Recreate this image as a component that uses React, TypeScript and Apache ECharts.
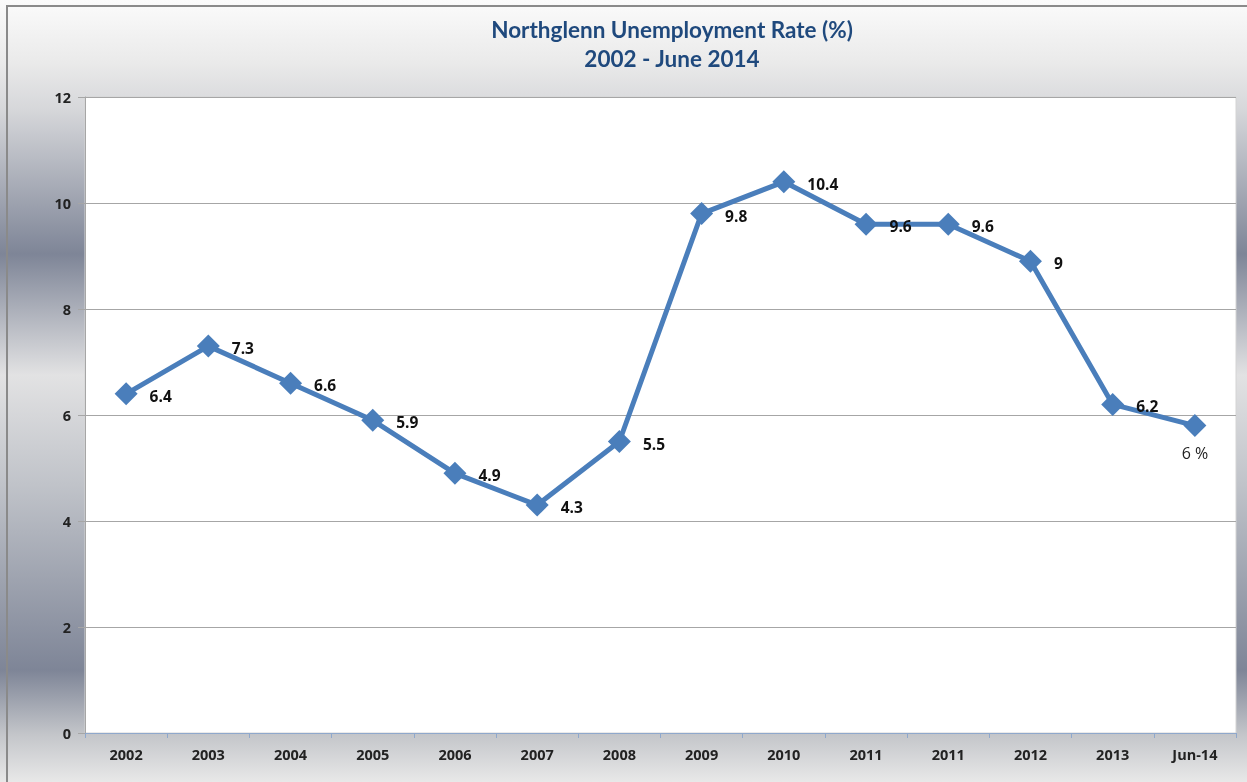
import React, { useEffect, useRef } from "react";
import * as echarts from "echarts";

const categories = ["2002", "2003", "2004", "2005", "2006", "2007", "2008", "2009", "2010", "2011", "2011", "2012", "2013", "Jun-14"];
const rates = [6.4, 7.3, 6.6, 5.9, 4.9, 4.3, 5.5, 9.8, 10.4, 9.6, 9.6, 8.9, 6.2, 5.8];
const pointLabels = ["6.4", "7.3", "6.6", "5.9", "4.9", "4.3", "5.5", "9.8", "10.4", "9.6", "9.6", "9", "6.2", "6%"];
const titleLines = ["Northglenn Unemployment Rate (%)", "2002 - June 2014"];

export default function App() {
  const ref = useRef<HTMLDivElement>(null);
  useEffect(() => {
    if (!ref.current) return;
    const chart = echarts.init(ref.current, null, { renderer: "svg" });
    const data = rates.map((v, i) => {
      const last = i === rates.length - 1;
      return {
        value: v,
        label: last
          ? {
              show: true,
              position: "bottom",
              distance: 6,
              formatter: pointLabels[i].replace("%", " %"),
              fontWeight: "normal",
              color: "#222",
              fontSize: 16,
            }
          : { show: true, formatter: pointLabels[i] },
      };
    });
    chart.setOption({
      animation: false,
      graphic: [
        {
          type: "rect",
          z: -100,
          silent: true,
          shape: { x: 0, y: 0, width: 1247, height: 782 },
          style: {
            fill: new echarts.graphic.LinearGradient(0, 0, 0, 1, [
              { offset: 0, color: "#fbfbfb" },
              { offset: 0.08, color: "#eaeaea" },
              { offset: 0.14, color: "#d6d7da" },
              { offset: 0.325, color: "#7e8597" },
              { offset: 0.48, color: "#e2e2e3" },
              { offset: 0.62, color: "#c0c3c9" },
              { offset: 0.857, color: "#7e8597" },
              { offset: 0.94, color: "#c4c6ca" },
              { offset: 1, color: "#e8e8e8" },
            ]),
          },
        },
        {
          type: "rect",
          z: 100,
          silent: true,
          shape: { x: 7, y: 6, width: 1260, height: 800 },
          style: { fill: "none", stroke: "#8a8a8a", lineWidth: 2 },
        },
      ],
      title: {
        text: titleLines.join("\n"),
        left: 667,
        textAlign: "center",
        top: 10,
        textStyle: {
          fontFamily: "Lato",
          fontWeight: "bold",
          fontSize: 22.5,
          color: "#1f497d",
          lineHeight: 29,
        },
      },
      grid: {
        left: 85,
        right: 11,
        top: 97,
        bottom: 49,
        show: true,
        backgroundColor: "#ffffff",
        borderColor: "#d4d4d4",
        borderWidth: 1,
      },
      xAxis: {
        type: "category",
        data: categories,
        boundaryGap: true,
        axisLine: { lineStyle: { color: "#8fa8cc", width: 1 } },
        axisTick: { show: true, length: 5, lineStyle: { color: "#8fa8cc" } },
        axisLabel: {
          fontFamily: "Open Sans",
          fontWeight: "bold",
          fontSize: 14.5,
          color: "#222",
          margin: 14,
          interval: 0,
        },
      },
      yAxis: {
        type: "value",
        min: 0,
        max: 12,
        interval: 2,
        axisLine: { show: true, lineStyle: { color: "#a6a6a6" } },
        axisTick: { show: true, length: 7, lineStyle: { color: "#a6a6a6" } },
        splitLine: { lineStyle: { color: "#a6a6a6", width: 1 } },
        axisLabel: {
          fontFamily: "Open Sans",
          fontWeight: "bold",
          fontSize: 14.5,
          color: "#222",
          margin: 14,
        },
      },
      series: [
        {
          type: "line",
          data,
          symbol: "diamond",
          symbolSize: 23,
          itemStyle: { color: "#4a7ebb" },
          lineStyle: { color: "#4a7ebb", width: 5 },
          label: {
            show: true,
            position: "right",
            distance: 12,
            offset: [0, 2],
            fontFamily: "Open Sans",
            fontWeight: "bold",
            fontSize: 15.5,
            color: "#111",
          },
        },
      ],
    });
    return () => chart.dispose();
  }, []);
  return (
    <div
      ref={ref}
      style={{ position: "fixed", left: 0, top: 0, width: 1247, height: 782 }}
    />
  );
}
